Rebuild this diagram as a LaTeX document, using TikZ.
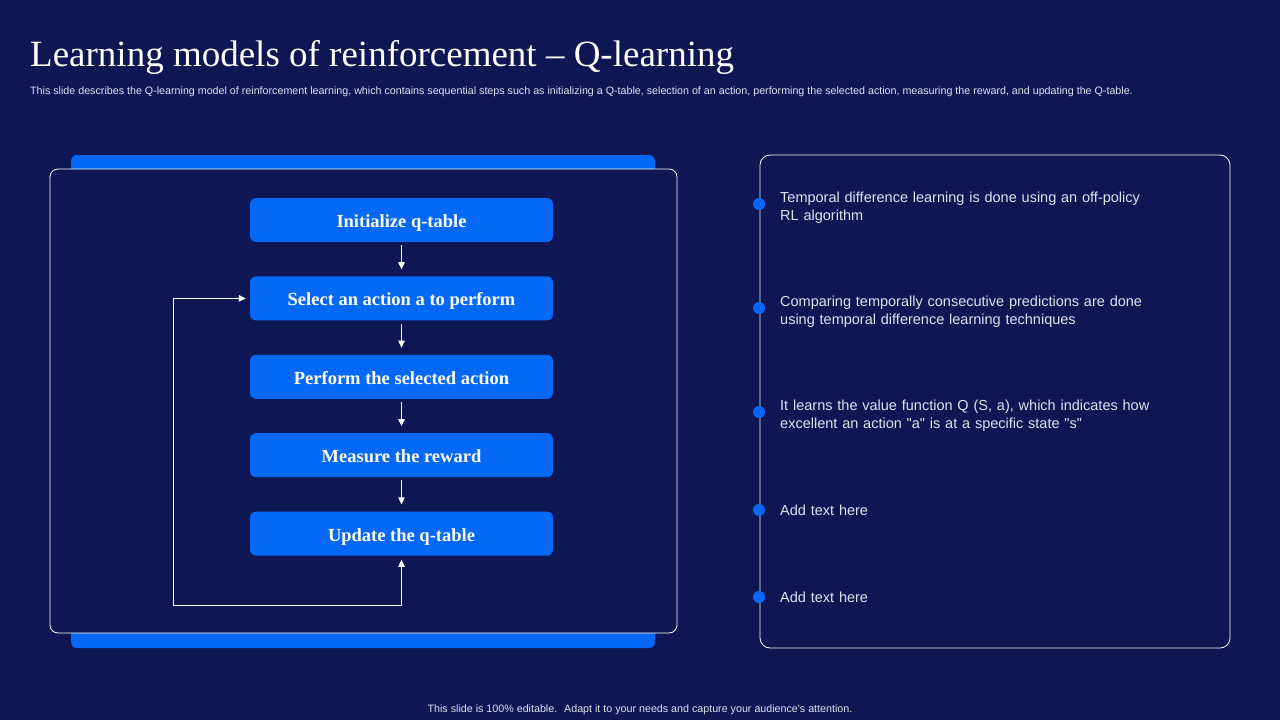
\documentclass[tikz,border=0pt]{standalone}
\usepackage{fontspec}
\setmainfont{Liberation Serif}
\newfontfamily\arialfont{Liberation Sans}
\usetikzlibrary{positioning,arrows.meta}
\definecolor{navy}{RGB}{14,22,84}
\definecolor{qblue}{RGB}{6,104,246}
\definecolor{pale}{RGB}{222,226,240}

\begin{document}
\begin{tikzpicture}[x=1pt,y=-1pt,
  qbox/.style={fill=qblue,rounded corners=6pt,minimum width=303pt,minimum height=44pt,
    text height=16pt,text depth=1pt,text=white,font=\bfseries\fontsize{18.5}{20}\selectfont},
  link/.style={white,line width=1pt,-{Triangle[length=7pt,width=6.5pt]}},
  loopback/.style={white,line width=1pt,{Triangle[length=7pt,width=6.5pt]}-{Triangle[length=7pt,width=6.5pt]}},
  bullet/.style={anchor=west,text=pale,align=left,text width=420pt,inner sep=0pt,
    font=\arialfont\fontsize{14.5}{18}\selectfont}]

\fill[navy] (0,0) rectangle (1280,720);
\useasboundingbox (0,0) rectangle (1280,720);

\node[anchor=base west,inner sep=0pt,text=white,font=\fontsize{37}{40}\selectfont] (title) at (30,66)
  {Learning models of reinforcement -- Q-learning};
\node[anchor=base west,inner sep=0pt,text=pale,font=\arialfont\fontsize{10.7}{12}\selectfont] (sub) at (30,94)
  {This slide describes the Q-learning model of reinforcement learning, which contains sequential steps such as initializing a Q-table, selection of an action, performing the selected action, measuring the reward, and updating the Q-table.};

% left panel
\fill[qblue,rounded corners=6pt] (71,155) rectangle (655,648);
\draw[white,fill=navy,rounded corners=8pt,line width=0.8pt] (50,169) rectangle (677,633);

\node[qbox] (init) at (401.5,220) {Initialize q-table};
\node[qbox,below=34pt of init] (select) {Select an action a to perform};
\node[qbox,below=34pt of select] (perform) {Perform the selected action};
\node[qbox,below=34pt of perform] (measure) {Measure the reward};
\node[qbox,below=34pt of measure] (update) {Update the q-table};

\foreach \a/\b in {init/select,select/perform,perform/measure,measure/update}
  \draw[link,shorten <=3pt,shorten >=7pt] (\a) -- (\b);

\coordinate (lb) at (173,605); % loop corner
\draw[loopback,shorten <=4pt,shorten >=4pt] (update.south) |- (lb) |- (select.west);

% right panel
\draw[white,rounded corners=10pt,line width=0.8pt] (760,155) rectangle (1230,648);

\foreach \y/\d/\t [count=\i] in {204/4/{Temporal difference learning is done using an off-policy\\RL algorithm},
    308/4/{Comparing temporally consecutive predictions are done\\using temporal difference learning techniques},
    412/4/{It learns the value function Q (S, a), which indicates how\\excellent an action "a" is at a specific state "s"},
    510/0/{Add text here},597/0/{Add text here}}{
  \fill[qblue] (759,\y) circle (6pt);
  \node[bullet] (b\i) at (780,\y+\d) {\t};
}

\node[text=pale,inner sep=0pt,font=\arialfont\fontsize{10.7}{12}\selectfont] (foot) at (640,710)
  {This slide is 100\% editable. \ Adapt it to your needs and capture your audience's attention.};

\end{tikzpicture}
\end{document}
